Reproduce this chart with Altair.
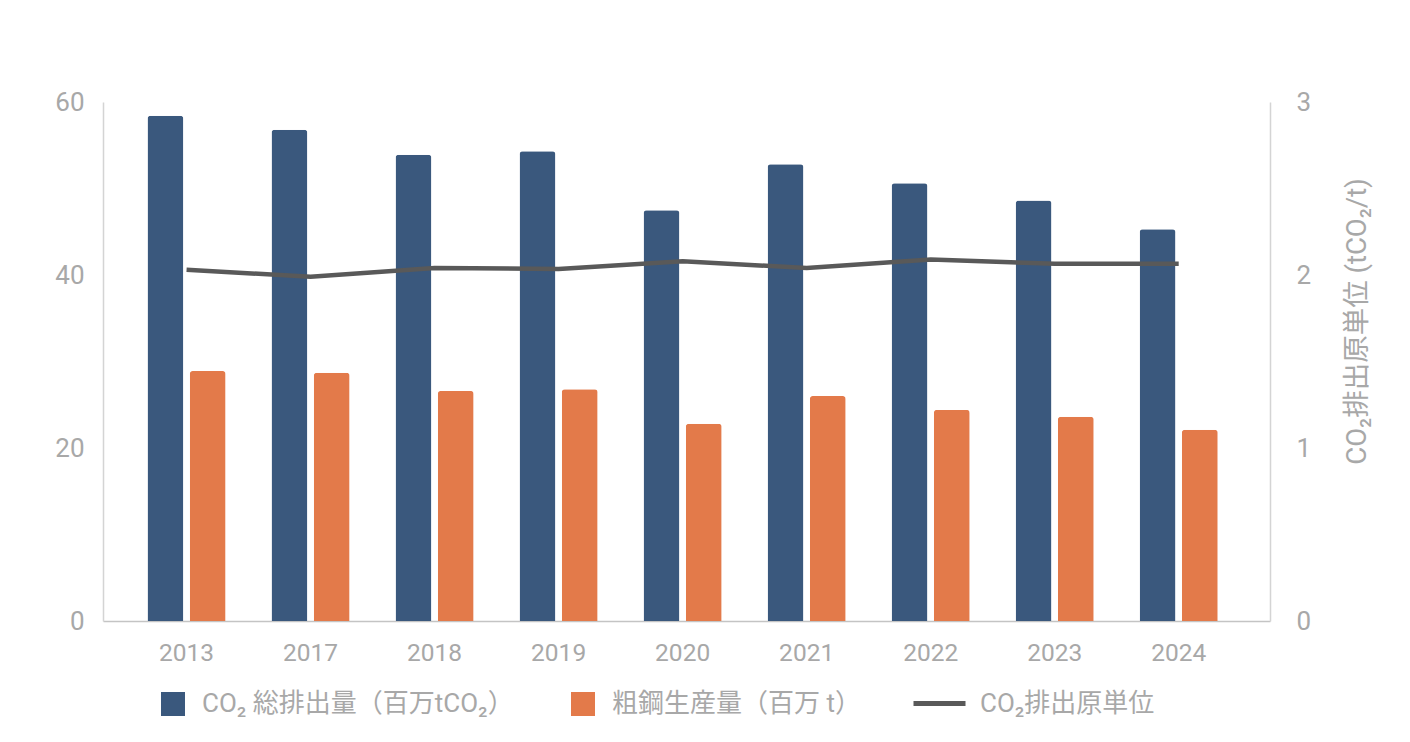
import altair as alt
import pandas as pd

years = ["2013", "2017", "2018", "2019", "2020", "2021", "2022", "2023", "2024"]
co2_total = [58.4, 56.8, 53.9, 54.3, 47.5, 52.8, 50.6, 48.6, 45.3]
steel = [28.9, 28.7, 26.6, 26.8, 22.8, 26.0, 24.4, 23.6, 22.1]
intensity = [2.03, 1.99, 2.04, 2.035, 2.08, 2.04, 2.09, 2.065, 2.065]

s1 = "CO₂ 総排出量（百万tCO₂）"
s2 = "粗鋼生産量（百万 t）"
s3 = "CO₂排出原単位"

BLUE = "#3A587D"
ORANGE = "#E37A4A"
LINE = "#595959"
GRAY = "#A8A8A8"
FONT = "Roboto, Noto Sans CJK JP, sans-serif"

bars_df = pd.DataFrame(
    {"year": years * 2,
     "series": [s1] * len(years) + [s2] * len(years),
     "value": co2_total + steel}
)
line_df = pd.DataFrame({"year": years, "series": [s3] * len(years), "value": intensity})

x_enc = alt.X(
    "year:N",
    sort=years,
    scale=alt.Scale(paddingInner=0.37, paddingOuter=0.39, align=0.46),
    axis=alt.Axis(title=None, labelAngle=0, ticks=False, domainColor="#C4C4C4", domainWidth=1.5,
                  labelColor=GRAY, labelFontSize=24.5, labelPadding=20, labelFont=FONT),
)

bars = alt.Chart(bars_df).mark_bar(cornerRadiusTopLeft=3, cornerRadiusTopRight=3).encode(
    x=x_enc,
    xOffset=alt.XOffset("series:N", scale=alt.Scale(domain=[s1, s2], paddingInner=0.15)),
    y=alt.Y("value:Q", scale=alt.Scale(domain=[0, 60], nice=False),
            axis=alt.Axis(values=[0, 20, 40, 60], grid=False, ticks=False, title=None,
                          domainColor="#D4D4D4", domainWidth=1.5, labelColor=GRAY,
                          labelFontSize=26, labelPadding=19, labelFont=FONT)),
    color=alt.Color("series:N", scale=alt.Scale(domain=[s1, s2], range=[BLUE, ORANGE]),
                    legend=alt.Legend(orient="none", legendX=57, legendY=589, direction="horizontal",
                                      title=None, symbolType="square", symbolSize=576,
                                      symbolStrokeWidth=0, labelFontSize=26, labelColor=GRAY,
                                      labelFont=FONT, labelOffset=16, columnPadding=56,
                                      labelLimit=500, padding=0)),
)

line = alt.Chart(line_df).mark_line(strokeWidth=4.5).encode(
    x=alt.X("year:N", sort=years),
    y=alt.Y("value:Q", scale=alt.Scale(domain=[0, 3], nice=False),
            axis=alt.Axis(orient="right", values=[0, 1, 2, 3], grid=False, ticks=False,
                          title="CO₂排出原単位 (tCO₂/t)", titleColor=GRAY, titleFontSize=27.5,
                          titleFontWeight="normal", titleFont=FONT, titleAngle=270,
                          titleX=87, titleY=219, titleAlign="center", titleBaseline="middle",
                          domainColor="#D4D4D4", domainWidth=1.5, labelColor=GRAY,
                          labelFontSize=26, labelPadding=26, labelFont=FONT)),
    stroke=alt.Stroke("series:N", scale=alt.Scale(domain=[s3], range=[LINE]),
                      legend=alt.Legend(orient="none", legendX=808, legendY=573, title=None,
                                        symbolType="stroke", symbolSize=2704, symbolStrokeWidth=5,
                                        labelFontSize=26, labelColor=GRAY, labelFont=FONT,
                                        labelOffset=12, labelLimit=500, padding=0)),
)

chart = alt.layer(bars, line).resolve_scale(y="independent").properties(
    width=1167,
    height=519,
    autosize=alt.AutoSizeParams(type="none"),
    padding={"left": 95, "top": 94, "right": 132, "bottom": 113},
    background="white",
).configure_view(stroke=None)

chart.save("out.html", embed_options={"renderer": "svg", "actions": False})
